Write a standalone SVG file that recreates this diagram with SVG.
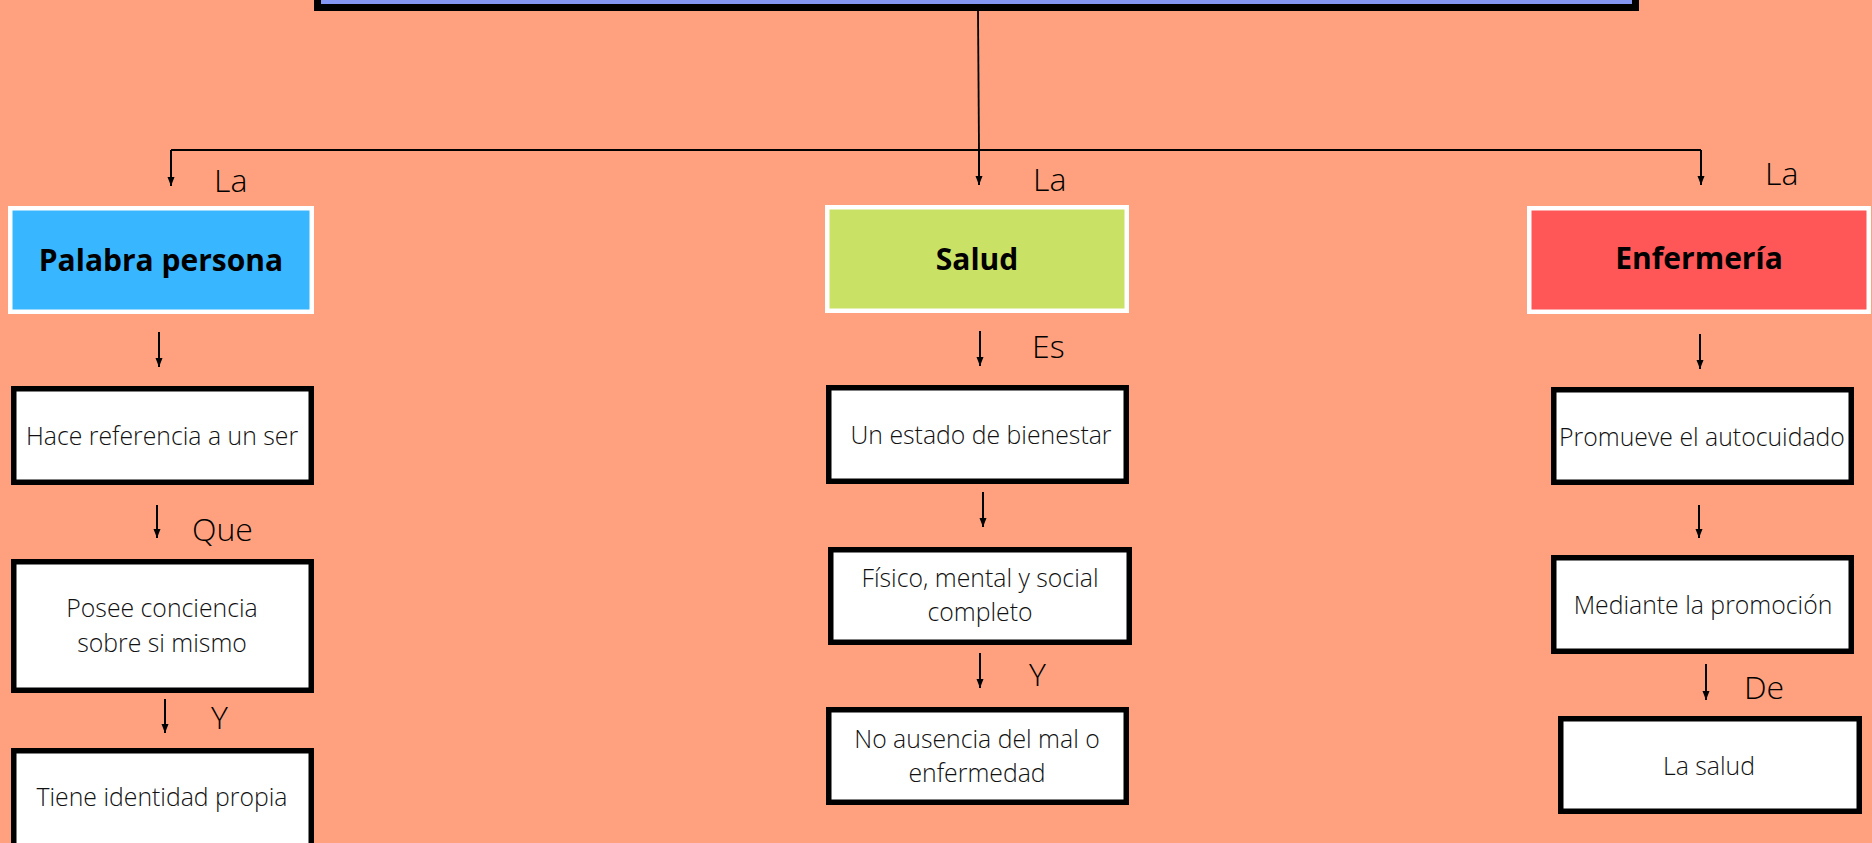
<svg xmlns="http://www.w3.org/2000/svg" width="1872" height="843" viewBox="0 0 1872 843">
<defs>
<style>
.bg{fill:#FFA07E}
.head{stroke:#FFFFFF;stroke-width:4.5}
.box{fill:#FFFFFF;stroke:#000000;stroke-width:5.5}
.ht{font-family:"Open Sans","Liberation Sans",sans-serif;font-weight:700;font-size:30px;fill:#000000;text-anchor:middle}
.bt{font-family:"Open Sans","Liberation Sans",sans-serif;font-weight:300;font-size:24.8px;fill:#111111;text-anchor:middle}
.lb{font-family:"Open Sans","Liberation Sans",sans-serif;font-weight:300;font-size:32px;fill:#000000}
.ln{stroke:#000000;stroke-width:1.8;fill:none}
.ar{stroke:#000000;stroke-width:2;fill:none;marker-end:url(#ah)}
</style>
<marker id="ah" markerUnits="userSpaceOnUse" markerWidth="10" markerHeight="10" viewBox="0 0 10 10" refX="9" refY="5" orient="auto">
<path d="M0,1.5 L9,5 L0,8.5 Z" fill="#000000"/>
</marker>
</defs>
<rect class="bg" x="0" y="0" width="1872" height="843"/>

<g id="title">
<rect x="317.5" y="-50" width="1318" height="57.5" fill="#8497F2" stroke="#000000" stroke-width="7"/>
</g>

<g id="connectors">
<line class="ln" x1="978" y1="11" x2="979" y2="150"/>
<line class="ln" x1="171" y1="150" x2="1701" y2="150"/>
<line class="ar" x1="171" y1="150" x2="171" y2="186"/>
<line class="ar" x1="979" y1="150" x2="979" y2="185"/>
<line class="ar" x1="1701" y1="150" x2="1701" y2="185"/>
<line class="ar" x1="159" y1="332" x2="159" y2="367"/>
<line class="ar" x1="157" y1="505" x2="157" y2="538"/>
<line class="ar" x1="165" y1="699" x2="165" y2="733"/>
<line class="ar" x1="980" y1="331" x2="980" y2="366"/>
<line class="ar" x1="983" y1="492" x2="983" y2="527"/>
<line class="ar" x1="980" y1="653" x2="980" y2="688"/>
<line class="ar" x1="1700" y1="334" x2="1700" y2="369"/>
<line class="ar" x1="1699" y1="505" x2="1699" y2="538"/>
<line class="ar" x1="1706" y1="664" x2="1706" y2="700"/>
</g>

<g id="labels">
<text class="lb" x="214" y="192">La</text>
<text class="lb" x="1033" y="191">La</text>
<text class="lb" x="1765" y="185">La</text>
<text class="lb" x="192" y="541">Que</text>
<text class="lb" x="211" y="729">Y</text>
<text class="lb" x="1032" y="358">Es</text>
<text class="lb" x="1029" y="686">Y</text>
<text class="lb" x="1744" y="699">De</text>
</g>

<g id="palabra-persona">
<rect class="head" x="10.25" y="208.25" width="301.5" height="103.5" fill="#38B6FF"/>
<text class="ht" x="161" y="271">Palabra persona</text>
</g>
<g id="hace-referencia">
<rect class="box" x="13.75" y="388.75" width="297.5" height="93.5"/>
<text class="bt" x="162" y="445">Hace referencia a un ser</text>
</g>
<g id="posee-conciencia">
<rect class="box" x="13.75" y="561.75" width="297.5" height="128.5"/>
<text class="bt" x="162" y="617">Posee conciencia</text>
<text class="bt" x="162" y="652">sobre si mismo</text>
</g>
<g id="tiene-identidad">
<rect class="box" x="13.75" y="750.75" width="297.5" height="140"/>
<text class="bt" x="162" y="806">Tiene identidad propia</text>
</g>

<g id="salud">
<rect class="head" x="827.25" y="207.25" width="299.5" height="103.5" fill="#C9E265"/>
<text class="ht" x="977" y="270">Salud</text>
</g>
<g id="estado-bienestar">
<rect class="box" x="828.75" y="387.75" width="297.5" height="93.5"/>
<text class="bt" x="981" y="444">Un estado de bienestar</text>
</g>
<g id="fisico-mental">
<rect class="box" x="830.75" y="549.75" width="298.5" height="92.5"/>
<text class="bt" x="980" y="587">Físico, mental y social</text>
<text class="bt" x="980" y="621">completo</text>
</g>
<g id="no-ausencia">
<rect class="box" x="828.75" y="709.75" width="297.5" height="92.5"/>
<text class="bt" x="977" y="748">No ausencia del mal o</text>
<text class="bt" x="977" y="782">enfermedad</text>
</g>

<g id="enfermeria">
<rect class="head" x="1529.25" y="208.25" width="339.5" height="103.5" fill="#FF5757"/>
<text class="ht" x="1699" y="269">Enfermería</text>
</g>
<g id="promueve">
<rect class="box" x="1553.75" y="389.75" width="297.5" height="92.5"/>
<text class="bt" x="1702" y="446">Promueve el autocuidado</text>
</g>
<g id="mediante">
<rect class="box" x="1553.75" y="557.75" width="297.5" height="93.5"/>
<text class="bt" x="1703" y="614">Mediante la promoción</text>
</g>
<g id="la-salud">
<rect class="box" x="1560.75" y="718.75" width="298.5" height="92.5"/>
<text class="bt" x="1709" y="775">La salud</text>
</g>
</svg>
